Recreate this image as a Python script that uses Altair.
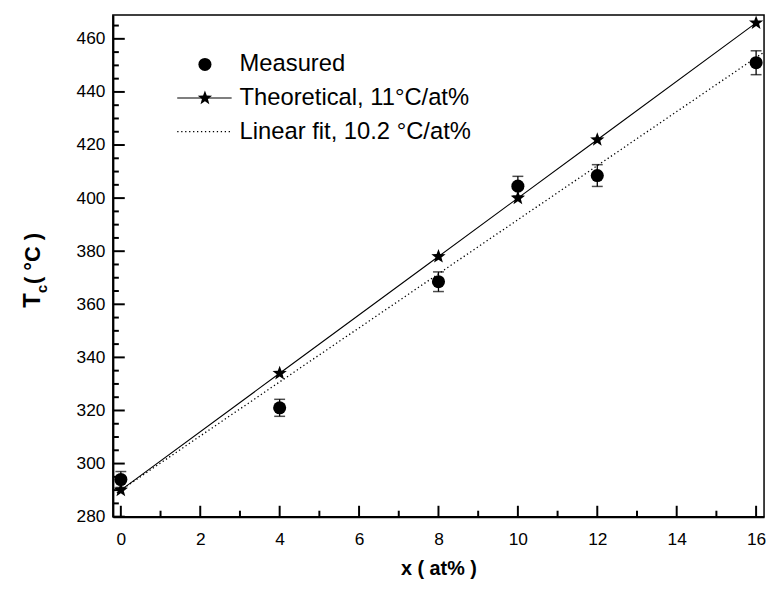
import altair as alt
import pandas as pd

# ---- data ----
x_vals = [0, 4, 8, 10, 12, 16]
measured = [294, 321, 368.5, 404.5, 408.5, 451]
measured_err = [3, 3.2, 3.7, 3.7, 4.1, 4.5]
theoretical = [290, 334, 378, 400, 422, 466]
fit_x = [-0.1, 16.2]
fit_y = [289, 455]

x_major = [0, 2, 4, 6, 8, 10, 12, 14, 16]
x_minor = [1, 3, 5, 7, 9, 11, 13, 15]
y_major = [280, 300, 320, 340, 360, 380, 400, 420, 440, 460]
y_minor = [v for v in range(285, 470, 5) if v % 20 != 0]

legend_labels = ["Measured", "Theoretical, 11°C/at%", "Linear fit, 10.2 °C/at%"]

W, H = 658, 507
FONT = "Liberation Sans"
STAR = ("M0,-1L0.245,-0.337L0.951,-0.309L0.397,0.129L0.588,0.809L0,0.417"
        "L-0.588,0.809L-0.397,0.129L-0.951,-0.309L-0.245,-0.337Z")

meas_df = pd.DataFrame({"x": x_vals, "y": measured, "err": measured_err})
theo_df = pd.DataFrame({"x": x_vals, "y": theoretical})
fit_df = pd.DataFrame({"x": fit_x, "y": fit_y})

xs = alt.Scale(domain=[-0.2, 16.2], nice=False, zero=False)
ys = alt.Scale(domain=[280, 469], nice=False, zero=False)
xaxis = alt.Axis(values=x_major, ticks=False, grid=False, labelFontSize=17.5, labelFont=FONT,
                 labelColor="black", labelPadding=14, domainColor="black", domainWidth=2,
                 title="x ( at% )", titleFont=FONT, titleFontSize=20, titleFontWeight="bold",
                 titleColor="black", titlePadding=11, labelFlush=False)
yaxis = alt.Axis(values=y_major, ticks=False, grid=False, labelFontSize=17.5, labelFont=FONT,
                 labelColor="black", labelPadding=8, domainColor="black", domainWidth=2,
                 title=None, labelFlush=False)


def X(f="x"):
    return alt.X(f, type="quantitative", scale=xs, axis=xaxis)


def Y(f="y"):
    return alt.Y(f, type="quantitative", scale=ys, axis=yaxis)


theo_line = alt.Chart(theo_df).mark_line(color="black", strokeWidth=1.1).encode(x=X(), y=Y())
fit_line = alt.Chart(fit_df).mark_line(color="black", strokeWidth=1.3, strokeDash=[1.3, 2.7]).encode(x=X(), y=Y())

err_base = alt.Chart(meas_df).transform_calculate(lo="datum.y - datum.err", hi="datum.y + datum.err")
err_rule = err_base.mark_rule(color="black", strokeWidth=1.3).encode(x=X(), y=Y("lo"), y2="hi:Q")
cap_lo = err_base.mark_tick(orient="horizontal", size=11, thickness=1.5, color="black").encode(x=X(), y=Y("lo"))
cap_hi = err_base.mark_tick(orient="horizontal", size=11, thickness=1.5, color="black").encode(x=X(), y=Y("hi"))

stars = alt.Chart(theo_df).mark_point(shape=STAR, filled=True, color="black", size=230, opacity=1).encode(x=X(), y=Y())
circles = alt.Chart(meas_df).mark_point(shape="circle", filled=True, color="black", size=175, opacity=1).encode(x=X(), y=Y())

# inward ticks
xmaj = alt.Chart(pd.DataFrame({"x": x_major})).mark_rule(color="black", strokeWidth=2).encode(
    x=X(), y=alt.value(H - 11), y2=alt.value(H))
xmin = alt.Chart(pd.DataFrame({"x": x_minor})).mark_rule(color="black", strokeWidth=2).encode(
    x=X(), y=alt.value(H - 6), y2=alt.value(H))
ymaj = alt.Chart(pd.DataFrame({"y": y_major})).mark_rule(color="black", strokeWidth=2).encode(
    y=Y(), x=alt.value(0), x2=alt.value(12))
ymin = alt.Chart(pd.DataFrame({"y": y_minor})).mark_rule(color="black", strokeWidth=2).encode(
    y=Y(), x=alt.value(0), x2=alt.value(6))

one = pd.DataFrame({"a": [0]})

# y axis title built from pieces (T, subscript c, ( °C ))
yt_T = alt.Chart(one).mark_text(text="T", angle=270, align="left", baseline="middle", font=FONT,
                                fontSize=24, fontWeight="bold", color="black").encode(
    x=alt.value(-81), y=alt.value(296))
yt_c = alt.Chart(one).mark_text(text="c", angle=270, align="left", baseline="middle", font=FONT,
                                fontSize=15, fontWeight="bold", color="black").encode(
    x=alt.value(-72), y=alt.value(281))
yt_rest = alt.Chart(one).mark_text(text=" ( °C )", angle=270, align="left", baseline="middle", font=FONT,
                                   fontSize=22, fontWeight="bold", color="black").encode(
    x=alt.value(-81), y=alt.value(272))

# manual legend
rows = [50, 84, 118]
leg_circle = alt.Chart(one).mark_point(shape="circle", filled=True, color="black", size=175, opacity=1).encode(
    x=alt.value(93), y=alt.value(rows[0]))
leg_line = alt.Chart(one).mark_rule(color="black", strokeWidth=1.1).encode(
    x=alt.value(65), x2=alt.value(120), y=alt.value(rows[1]))
leg_star = alt.Chart(one).mark_point(shape=STAR, filled=True, color="black", size=230, opacity=1).encode(
    x=alt.value(93), y=alt.value(rows[1]))
leg_dot = alt.Chart(one).mark_rule(color="black", strokeWidth=1.3, strokeDash=[1.3, 2.7]).encode(
    x=alt.value(65), x2=alt.value(120), y=alt.value(rows[2]))
leg_texts = [
    alt.Chart(one).mark_text(text=lab, align="left", baseline="middle", font=FONT, fontSize=24,
                             color="black").encode(x=alt.value(128), y=alt.value(r))
    for lab, r in zip(legend_labels, rows)
]

chart = alt.layer(
    xmaj, xmin, ymaj, ymin,
    fit_line, theo_line, err_rule, cap_lo, cap_hi, stars, circles,
    yt_T, yt_c, yt_rest,
    leg_circle, leg_line, leg_star, leg_dot, *leg_texts,
).properties(
    width=W, height=H,
    background="white",
    autosize=alt.AutoSizeParams(type="none"),
    padding={"left": 106, "top": 4, "right": 4, "bottom": 62},
).configure_view(stroke="black", strokeWidth=1.5)

chart.save("out.html", embed_options={"renderer": "svg", "actions": False})
